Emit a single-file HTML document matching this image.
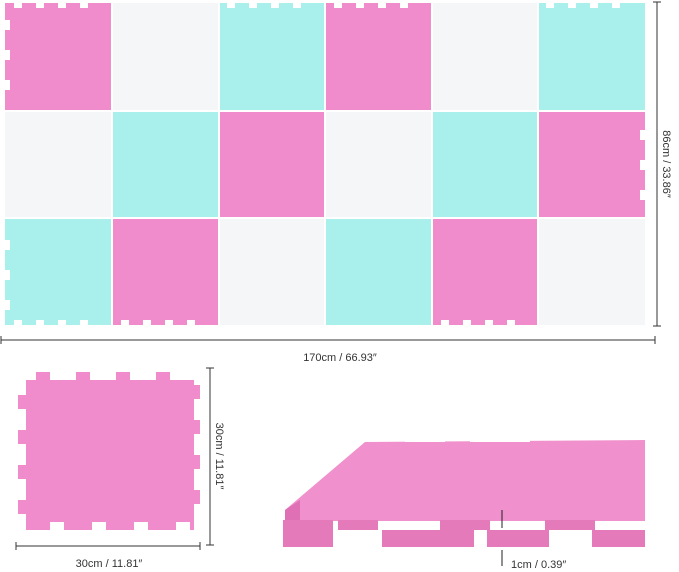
<!DOCTYPE html>
<html><head><style>
html,body{margin:0;padding:0;background:#fff;}
svg{display:block;font-family:"Liberation Sans",sans-serif;}
</style></head><body>
<svg width="679" height="572" viewBox="0 0 679 572" xmlns="http://www.w3.org/2000/svg">
<g id="grid">
<rect x="5" y="3" width="107" height="108" fill="#f08ccb"/>
<rect x="112" y="3" width="107" height="108" fill="#f5f6f8"/>
<rect x="219" y="3" width="106" height="108" fill="#a9f0ec"/>
<rect x="325" y="3" width="107" height="108" fill="#f08ccb"/>
<rect x="432" y="3" width="106" height="108" fill="#f5f6f8"/>
<rect x="538" y="3" width="107" height="108" fill="#a9f0ec"/>
<rect x="5" y="111" width="107" height="107" fill="#f5f6f8"/>
<rect x="112" y="111" width="107" height="107" fill="#a9f0ec"/>
<rect x="219" y="111" width="106" height="107" fill="#f08ccb"/>
<rect x="325" y="111" width="107" height="107" fill="#f5f6f8"/>
<rect x="432" y="111" width="106" height="107" fill="#a9f0ec"/>
<rect x="538" y="111" width="107" height="107" fill="#f08ccb"/>
<rect x="5" y="218" width="107" height="107" fill="#a9f0ec"/>
<rect x="112" y="218" width="107" height="107" fill="#f08ccb"/>
<rect x="219" y="218" width="106" height="107" fill="#f5f6f8"/>
<rect x="325" y="218" width="107" height="107" fill="#a9f0ec"/>
<rect x="432" y="218" width="106" height="107" fill="#f08ccb"/>
<rect x="538" y="218" width="107" height="107" fill="#f5f6f8"/>
</g>
<g stroke="#fff" stroke-width="2">
<line x1="112" y1="3" x2="112" y2="325"/><line x1="219" y1="3" x2="219" y2="325"/><line x1="325" y1="3" x2="325" y2="325"/><line x1="432" y1="3" x2="432" y2="325"/><line x1="538" y1="3" x2="538" y2="325"/>
<line x1="5" y1="111" x2="645" y2="111"/><line x1="5" y1="218" x2="645" y2="218"/>
</g>
<g fill="#fff">
<rect x="0" y="0" width="679" height="3"/>
<rect x="14" y="0" width="8" height="8"/><rect x="36" y="0" width="8" height="8"/><rect x="58" y="0" width="8" height="8"/><rect x="80" y="0" width="8" height="8"/>
<rect x="227" y="0" width="8" height="8"/><rect x="249" y="0" width="8" height="8"/><rect x="271" y="0" width="8" height="8"/><rect x="293" y="0" width="8" height="8"/>
<rect x="334" y="0" width="8" height="8"/><rect x="356" y="0" width="8" height="8"/><rect x="378" y="0" width="8" height="8"/><rect x="400" y="0" width="8" height="8"/>
<rect x="546" y="0" width="8" height="8"/><rect x="568" y="0" width="8" height="8"/><rect x="590" y="0" width="8" height="8"/><rect x="612" y="0" width="8" height="8"/>
<rect x="5" y="20" width="5" height="10"/><rect x="5" y="50" width="5" height="10"/><rect x="5" y="80" width="5" height="10"/>
<rect x="5" y="240" width="5" height="10"/><rect x="5" y="270" width="5" height="10"/><rect x="5" y="300" width="5" height="10"/>
<rect x="14" y="320" width="8" height="5"/><rect x="36" y="320" width="8" height="5"/><rect x="58" y="320" width="8" height="5"/><rect x="80" y="320" width="8" height="5"/>
<rect x="121" y="320" width="8" height="5"/><rect x="143" y="320" width="8" height="5"/><rect x="165" y="320" width="8" height="5"/><rect x="187" y="320" width="8" height="5"/>
<rect x="441" y="320" width="8" height="5"/><rect x="463" y="320" width="8" height="5"/><rect x="485" y="320" width="8" height="5"/><rect x="507" y="320" width="8" height="5"/>
<rect x="640" y="130" width="5" height="10"/><rect x="640" y="160" width="5" height="10"/><rect x="640" y="190" width="5" height="10"/>
</g>
<g stroke="#333" stroke-width="1">
<line x1="657" y1="2" x2="657" y2="326"/><line x1="653" y1="2" x2="661" y2="2"/><line x1="653" y1="326" x2="661" y2="326"/>
<line x1="1" y1="340" x2="655" y2="340"/><line x1="1" y1="336" x2="1" y2="344"/><line x1="655" y1="336" x2="655" y2="344"/>
<line x1="210" y1="368" x2="210" y2="545"/><line x1="206" y1="368" x2="214" y2="368"/><line x1="206" y1="545" x2="214" y2="545"/>
<line x1="16" y1="546" x2="200" y2="546"/><line x1="16" y1="542" x2="16" y2="550"/><line x1="200" y1="542" x2="200" y2="550"/>
</g>
<g fill="#333" font-size="11">
<text x="340" y="361" text-anchor="middle">170cm / 66.93″</text>
<text transform="translate(663,164) rotate(90)" text-anchor="middle">86cm / 33.86″</text>
<text transform="translate(216,456) rotate(90)" text-anchor="middle">30cm / 11.81″</text>
<text x="109" y="567" text-anchor="middle">30cm / 11.81″</text>
<text x="511" y="568">1cm / 0.39″</text>
</g>
<rect x="26" y="380" width="168" height="150" fill="#f08ccb"/>
<g fill="#f08ccb">
<rect x="36" y="372" width="14" height="10"/><rect x="76" y="372" width="14" height="10"/><rect x="116" y="372" width="14" height="10"/><rect x="156" y="372" width="14" height="10"/>
<rect x="18" y="395" width="10" height="14"/><rect x="18" y="430" width="10" height="14"/><rect x="18" y="465" width="10" height="14"/><rect x="18" y="500" width="10" height="14"/>
<rect x="192" y="385" width="8" height="14"/><rect x="192" y="420" width="8" height="14"/><rect x="192" y="455" width="8" height="14"/><rect x="192" y="490" width="8" height="14"/>
</g>
<g fill="#fff"><rect x="50" y="522" width="14" height="10"/><rect x="92" y="522" width="14" height="10"/><rect x="134" y="522" width="14" height="10"/><rect x="176" y="522" width="14" height="10"/></g>
<polygon points="285,510 365,442 645,440 645,521 285,521" fill="#f090cc"/>
<polygon points="285,510 300,500 300,540 285,530" fill="#e070b5"/>
<g fill="#e57abb">
<rect x="283" y="520" width="50" height="27"/>
<rect x="382" y="530" width="92" height="17"/>
<rect x="487" y="530" width="62" height="17"/>
<rect x="592" y="530" width="53" height="17"/>
<rect x="338" y="520" width="40" height="10"/><rect x="440" y="520" width="50" height="10"/><rect x="545" y="520" width="50" height="10"/>
</g>
<g fill="#fff"><rect x="405" y="436" width="40" height="6"/><rect x="470" y="436" width="60" height="6"/></g>
<g stroke="#222" stroke-width="1"><line x1="502" y1="510" x2="502" y2="528"/><line x1="502" y1="550" x2="502" y2="566"/></g>
</svg>
</body></html>
